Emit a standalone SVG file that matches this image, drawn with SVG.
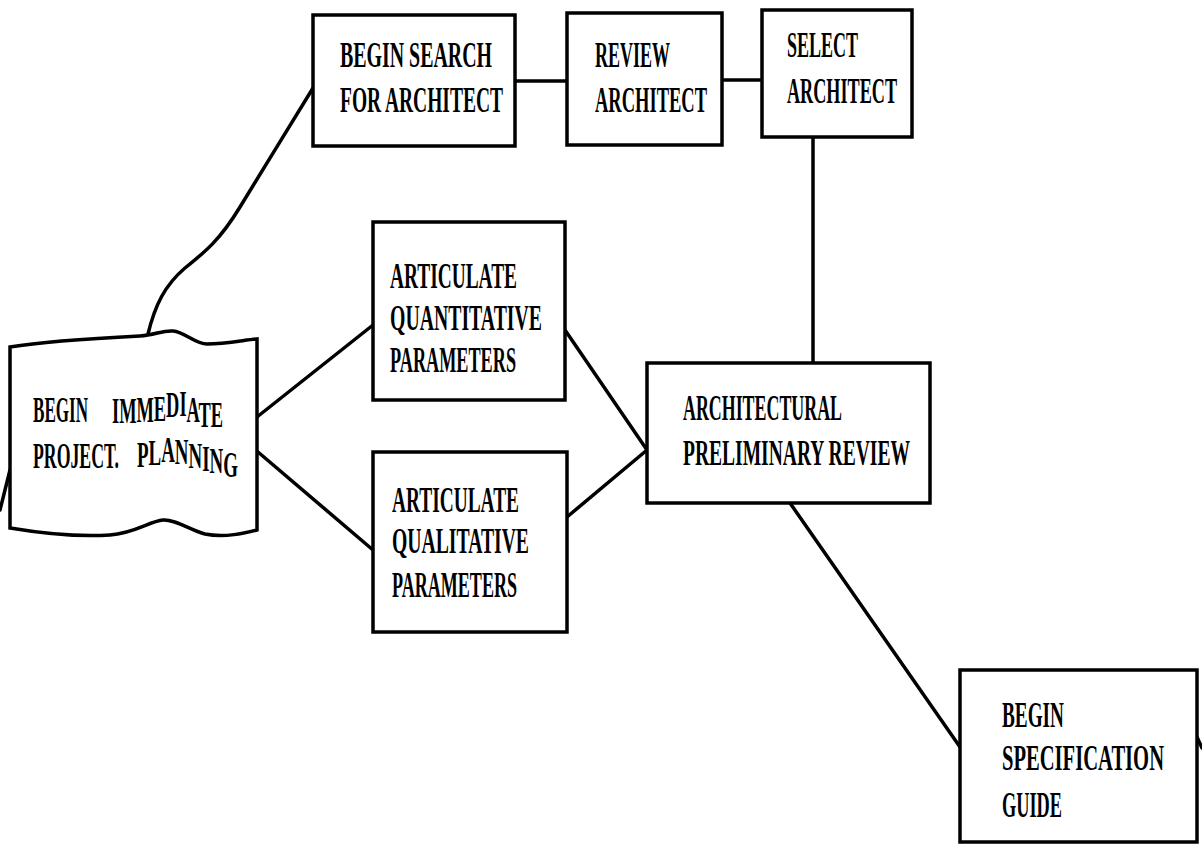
<svg xmlns="http://www.w3.org/2000/svg" width="1202" height="846" viewBox="0 0 1202 846">
  <style>
    .box { fill: #fff; stroke: #000; stroke-width: 3.5; }
    .link { fill: none; stroke: #000; stroke-width: 3.5; stroke-linecap: round; stroke-linejoin: round; }
    /* tall, narrow typewriter lettering: a 19px serif stretched 1.9x vertically */
    .t { font-family: "Liberation Serif", "Times New Roman", serif; font-size: 19px; font-weight: bold; fill: #000; }
  </style>
  <rect width="1202" height="846" fill="#fff"/>

  <!-- connectors -->
  <g id="connectors">
    <path class="link" d="M148,334 C155,305 165,285 185,268 C205,252 220,240 240,207 C260,175 290,125 313,88"/>
    <line class="link" x1="515" y1="81" x2="567" y2="81" stroke-width="5.5"/>
    <line class="link" x1="722" y1="80" x2="762" y2="80" stroke-width="4.5"/>
    <line class="link" x1="813" y1="137" x2="813" y2="363"/>
    <line class="link" x1="257" y1="417" x2="373" y2="325"/>
    <line class="link" x1="258" y1="452" x2="373" y2="550"/>
    <line class="link" x1="565" y1="330" x2="647" y2="450"/>
    <line class="link" x1="567" y1="517" x2="647" y2="450"/>
    <line class="link" x1="790" y1="503" x2="960" y2="747"/>
    <line class="link" x1="0" y1="510" x2="10" y2="470"/>
    <line class="link" x1="1197" y1="737" x2="1202" y2="748"/>
  </g>

  <!-- document-shaped start node with wavy typed lines -->
  <g id="begin-planning">
    <path class="box" d="M10,347 C40,342 100,338 140,336 C155,335 163,330 173,331 C185,332 195,344 207,344 C225,344 245,340 257,339 L257,530 C245,533 225,538 205,534 C190,530 175,519 163,520 C150,521 135,533 110,535 C80,537 40,533 10,528 Z"/>
    <text class="t" transform="translate(33,422) scale(1,1.9)" textLength="55" lengthAdjust="spacingAndGlyphs">BEGIN</text>
    <text class="t" transform="translate(112,423) scale(1,1.9)" dy="0 0 -0.5 -0.5 -2.1 -0.5 3.2 2.6 0" textLength="111" lengthAdjust="spacingAndGlyphs">IMMEDIATE</text>
    <text class="t" transform="translate(33,468) scale(1,1.9)" textLength="86" lengthAdjust="spacingAndGlyphs">PROJECT.</text>
    <text class="t" transform="translate(137,467) scale(1,1.9)" dy="0 -1.1 -1.6 1.1 2.1 1.6 1.1 2.1" textLength="101" lengthAdjust="spacingAndGlyphs">PLANNING</text>
  </g>

  <g id="begin-search">
    <rect class="box" x="313" y="15" width="202" height="131"/>
    <text class="t" transform="translate(340,67) scale(1,1.9)" textLength="152" lengthAdjust="spacingAndGlyphs">BEGIN SEARCH</text>
    <text class="t" transform="translate(340,112) scale(1,1.9)" textLength="163" lengthAdjust="spacingAndGlyphs">FOR ARCHITECT</text>
  </g>

  <g id="review-architect">
    <rect class="box" x="567" y="13" width="155" height="132"/>
    <text class="t" transform="translate(595,67) scale(1,1.9)" textLength="75" lengthAdjust="spacingAndGlyphs">REVIEW</text>
    <text class="t" transform="translate(595,112) scale(1,1.9)" textLength="112" lengthAdjust="spacingAndGlyphs">ARCHITECT</text>
  </g>

  <g id="select-architect">
    <rect class="box" x="762" y="10" width="150" height="127"/>
    <text class="t" transform="translate(787,57) scale(1,1.9)" textLength="71" lengthAdjust="spacingAndGlyphs">SELECT</text>
    <text class="t" transform="translate(787,103) scale(1,1.9)" textLength="110" lengthAdjust="spacingAndGlyphs">ARCHITECT</text>
  </g>

  <g id="quantitative">
    <rect class="box" x="373" y="222" width="192" height="178"/>
    <text class="t" transform="translate(390,288) scale(1,1.9)" textLength="127" lengthAdjust="spacingAndGlyphs">ARTICULATE</text>
    <text class="t" transform="translate(390,330) scale(1,1.9)" textLength="152" lengthAdjust="spacingAndGlyphs">QUANTITATIVE</text>
    <text class="t" transform="translate(390,372) scale(1,1.9)" textLength="126" lengthAdjust="spacingAndGlyphs">PARAMETERS</text>
  </g>

  <g id="qualitative">
    <rect class="box" x="373" y="452" width="194" height="180"/>
    <text class="t" transform="translate(392,512) scale(1,1.9)" textLength="127" lengthAdjust="spacingAndGlyphs">ARTICULATE</text>
    <text class="t" transform="translate(392,553) scale(1,1.9)" textLength="137" lengthAdjust="spacingAndGlyphs">QUALITATIVE</text>
    <text class="t" transform="translate(392,597) scale(1,1.9)" textLength="125" lengthAdjust="spacingAndGlyphs">PARAMETERS</text>
  </g>

  <g id="preliminary-review">
    <rect class="box" x="647" y="363" width="283" height="140"/>
    <text class="t" transform="translate(683,420) scale(1,1.9)" textLength="159" lengthAdjust="spacingAndGlyphs">ARCHITECTURAL</text>
    <text class="t" transform="translate(683,465) scale(1,1.9)" textLength="227" lengthAdjust="spacingAndGlyphs">PRELIMINARY REVIEW</text>
  </g>

  <g id="specification-guide">
    <rect class="box" x="960" y="670" width="237" height="172"/>
    <text class="t" transform="translate(1002,727) scale(1,1.9)" textLength="62" lengthAdjust="spacingAndGlyphs">BEGIN</text>
    <text class="t" transform="translate(1002,770) scale(1,1.9)" textLength="162" lengthAdjust="spacingAndGlyphs">SPECIFICATION</text>
    <text class="t" transform="translate(1002,817) scale(1,1.9)" textLength="60" lengthAdjust="spacingAndGlyphs">GUIDE</text>
  </g>
</svg>
